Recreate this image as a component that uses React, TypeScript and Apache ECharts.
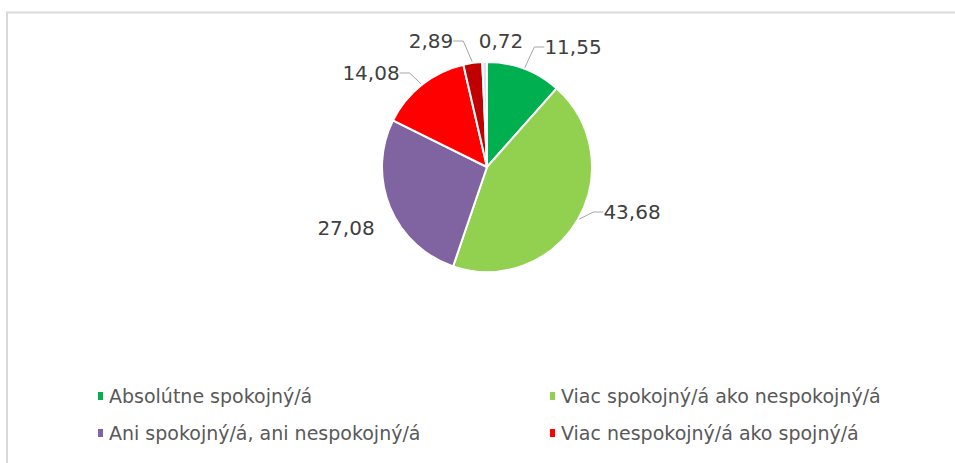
import React, { useEffect, useRef } from "react";
import * as echarts from "echarts";

const categories = [
  "Absolútne spokojný/á",
  "Viac spokojný/á ako nespokojný/á",
  "Ani spokojný/á, ani nespokojný/á",
  "Viac nespokojný/á ako spojný/á",
  "Absolútne nespokojný/á",
  "Neviem",
];
const values = [11.55, 43.68, 27.08, 14.08, 2.89, 0.72];
const colors = ["#00B050", "#92D050", "#8064A2", "#FF0000", "#C00000", "#DCE3EE"];
const legendCol1 = [categories[0], categories[2]];
const legendCol2 = [categories[1], categories[3]];

export default function App() {
  const ref = useRef<HTMLDivElement>(null);
  useEffect(() => {
    if (!ref.current) return;
    const chart = echarts.init(ref.current, null, { renderer: "svg" });
    const labelPos: [number, number][] = [
      [573, 47],
      [632, 212],
      [346, 228],
      [371, 73],
      [431, 41],
      [501, 41],
    ];
    const noLine = [false, false, true, false, false, true];
    const legendText = {
      fontFamily: "DejaVu Sans",
      fontSize: 19,
      color: "#595959",
      lineHeight: 20,
      padding: [0, 0, 0, 0],
    };
    chart.setOption({
      animation: false,
      backgroundColor: "#ffffff",
      graphic: [
        {
          type: "rect",
          shape: { x: 7, y: 12.5, width: 1000, height: 600 },
          style: { fill: "none", stroke: "#D9D9D9", lineWidth: 2 },
          silent: true,
        },
      ],
      legend: [
        {
          orient: "vertical",
          left: 91,
          top: 381,
          itemWidth: 7,
          itemHeight: 10,
          itemGap: 17,
          icon: "rect",
          data: legendCol1,
          textStyle: legendText,
        },
        {
          orient: "vertical",
          left: 543,
          top: 381,
          itemWidth: 7,
          itemHeight: 10,
          itemGap: 17,
          icon: "rect",
          data: legendCol2,
          textStyle: legendText,
        },
      ],
      series: [
        {
          type: "pie",
          center: [487, 167],
          radius: [0, 105],
          startAngle: 90,
          clockwise: true,
          itemStyle: { borderColor: "#ffffff", borderWidth: 2 },
          label: {
            show: true,
            position: "outside",
            formatter: (p: any) => p.value.toFixed(2).replace(".", ","),
            fontFamily: "DejaVu Sans",
            fontSize: 20,
            color: "#404040",
          },
          labelLine: { show: true, length: 8, length2: 10, lineStyle: { color: "#A6A6A6", width: 1 } },
          labelLayout: (params: any) => {
            const p = labelPos[params.dataIndex];
            return { x: p[0], y: p[1], align: "center", verticalAlign: "middle" };
          },
          data: categories.map((name, i) => ({
            name,
            value: values[i],
            itemStyle: { color: colors[i] },
            labelLine: { show: !noLine[i] },
          })),
        },
      ],
    });
    return () => chart.dispose();
  }, []);
  return (
    <div
      ref={ref}
      style={{ position: "absolute", left: 0, top: 0, width: 955, height: 463 }}
    />
  );
}
